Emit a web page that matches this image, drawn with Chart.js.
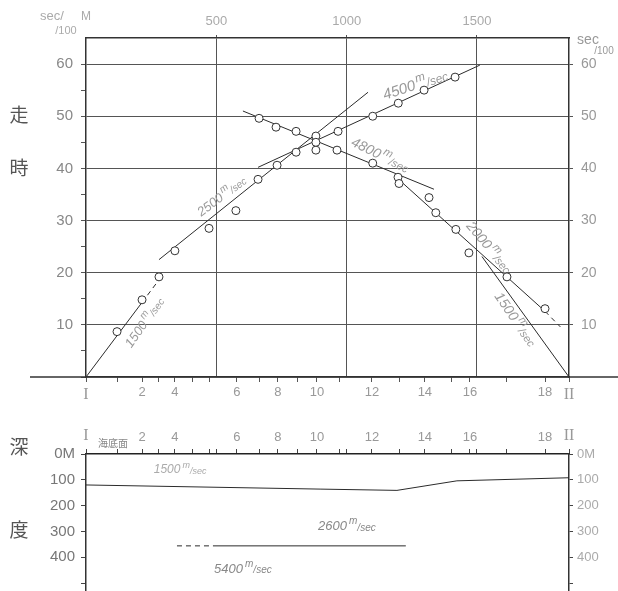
<!DOCTYPE html>
<html>
<head>
<meta charset="utf-8">
<script src="https://cdn.jsdelivr.net/npm/chart.js@4.4.1/dist/chart.umd.min.js"></script>
<style>
  html, body { margin: 0; padding: 0; background: #fff; overflow: hidden; }
  #travel { position: absolute; left: 0; top: 0; }
  #depth { position: absolute; left: 0; top: 411px; }
</style>
</head>
<body>
<canvas id="travel" width="618" height="412"></canvas>
<canvas id="depth" width="618" height="194"></canvas>
<script>
// line length I -> II in metres
var SPAN = 1853;

// stations along the line (metres) and their labels
var stationPos = [0, 119, 215, 280, 341, 407, 472, 579, 664, 736, 813, 886, 974, 1097, 1201, 1300, 1404, 1473, 1615, 1761, 1853];
var stationName = ['I', '', '2', '', '4', '', '', '6', '', '8', '', '10', '', '12', '', '14', '', '16', '', '18', 'II'];

// travel times (1/100 sec) -- shot at I
var fwdDist = [119, 215, 280, 341, 472, 575, 660, 733, 806, 882, 967, 1100, 1198, 1297, 1416];
var fwdTime = [8.7, 14.8, 19.2, 24.2, 28.5, 31.9, 37.9, 40.6, 43.1, 45.0, 47.1, 50.0, 52.5, 55.0, 57.5];
// shot at II
var revDist = [664, 729, 806, 882, 882, 963, 1100, 1197, 1201, 1316, 1342, 1419, 1469, 1615, 1761];
var revTime = [49.6, 47.9, 47.1, 46.2, 43.5, 43.5, 41.0, 38.3, 37.1, 34.4, 31.5, 28.3, 23.8, 19.2, 13.1];

// fitted velocity lines
var v1500aDist = [0, 215, 290],   v1500aTime = [0, 14.3, 19.3];
var v2500Dist = [280, 1082],      v2500Time = [22.5, 54.6];
var v4500Dist = [660, 1511],      v4500Time = [40.2, 59.8];
var v4800Dist = [602, 1335],      v4800Time = [51.0, 36.0];
var v2000Dist = [1197, 1761, 1820], v2000Time = [38.0, 12.6, 9.6];
var v1500bDist = [1519, 1853],    v1500bTime = [23.1, 0];

// depth section (m)
var seabedDist = [0, 898, 1193, 1423, 1853];
var seabedDepth = [120, 136, 141, 104, 92];
var layerDist = [349, 487, 1227];
var layerDepth = [356, 356, 356];

function pts(xs, ys) { return xs.map(function (x, i) { return { x: x, y: ys[i] }; }); }

function seg(xs, ys, dashFirst, dashLast) {
  var n = xs.length;
  return {
    type: 'line', data: pts(xs, ys), borderColor: '#2b2b2b', borderWidth: 1,
    pointRadius: 0, tension: 0, order: 2,
    segment: {
      borderDash: function (c) {
        if (dashFirst && c.p0DataIndex === 0) return [5, 4];
        if (dashLast && c.p1DataIndex === n - 1) return [5, 4];
        return undefined;
      }
    }
  };
}

function circles(xs, ys) {
  return {
    type: 'scatter', data: pts(xs, ys), showLine: false, order: 1,
    pointStyle: 'circle', pointRadius: 4, backgroundColor: '#fff',
    borderColor: '#333', borderWidth: 1
  };
}

function speedText(ctx, num, size, color) {
  var big = 'italic ' + size + 'px "Liberation Sans"';
  var small = 'italic ' + Math.round(size * 0.78) + 'px "Liberation Sans"';
  ctx.font = big; var w1 = ctx.measureText(num).width;
  ctx.font = small; var w2 = ctx.measureText('m').width, w3 = ctx.measureText('/sec').width;
  var x = -(w1 + w2 + w3 + 2) / 2;
  ctx.fillStyle = color; ctx.textBaseline = 'middle'; ctx.textAlign = 'left';
  ctx.font = big; ctx.fillText(num, x, 0); x += w1 + 2;
  ctx.font = small; ctx.fillText('m', x, -size * 0.4); x += w2;
  ctx.fillText('/sec', x, size * 0.1);
}

// text notes: data position (x,y) or pixel position (px,py)
var notes = {
  id: 'notes',
  afterDatasetsDraw: function (chart, args, opts) {
    var ctx = chart.ctx, xs = chart.scales.x, ys = chart.scales.y;
    if (opts.axisExtend) {
      var y0 = ys.getPixelForValue(0);
      ctx.save(); ctx.strokeStyle = '#333'; ctx.lineWidth = 1.5;
      ctx.beginPath(); ctx.moveTo(30, y0); ctx.lineTo(618, y0); ctx.stroke(); ctx.restore();
    }
    (opts.items || []).forEach(function (n) {
      var px = n.px !== undefined ? n.px : xs.getPixelForValue(n.x);
      var py = n.py !== undefined ? n.py : ys.getPixelForValue(n.y);
      ctx.save();
      ctx.translate(px, py);
      ctx.rotate((n.angle || 0) * Math.PI / 180);
      if (n.speed) {
        speedText(ctx, n.speed, n.size || 13, n.color || '#999');
      } else {
        ctx.font = n.font || '13px "Liberation Sans"';
        ctx.fillStyle = n.color || '#999';
        ctx.textAlign = n.align || 'center';
        ctx.textBaseline = 'middle';
        ctx.fillText(n.text, 0, 0);
      }
      ctx.restore();
    });
  }
};

var cjk = '19px "Noto Sans CJK JP"';
function stationLabel(v) {
  var i = stationPos.indexOf(v);
  return i < 0 ? '' : stationName[i];
}
function stationFont(c) {
  var lab = c.tick ? stationLabel(c.tick.value) : '';
  if (lab === 'I' || lab === 'II') return { family: '"Liberation Serif"', size: 16 };
  return { family: '"Liberation Sans"', size: 13 };
}
function fixTicks(list) { return function (s) { s.ticks = list.map(function (v) { return { value: v }; }); }; }
function plain(v) { return String(v); }

var travelTicks = [0, 5, 10, 15, 20, 25, 30, 35, 40, 45, 50, 55, 60];

new Chart(document.getElementById('travel'), {
  type: 'line',
  data: {
    datasets: [
      seg(v1500aDist, v1500aTime, false, true),
      seg(v2500Dist, v2500Time),
      seg(v4500Dist, v4500Time),
      seg(v4800Dist, v4800Time),
      seg(v2000Dist, v2000Time, false, true),
      seg(v1500bDist, v1500bTime),
      circles(fwdDist, fwdTime),
      circles(revDist, revTime)
    ]
  },
  options: {
    responsive: false, animation: false,
    layout: { padding: 0 },
    plugins: {
      legend: { display: false }, tooltip: { enabled: false },
      notes: {
        axisExtend: true,
        items: [
          { px: 19, py: 115, text: '走', font: cjk, color: '#555' },
          { px: 19, py: 168, text: '時', font: cjk, color: '#555' },
          { px: 52, py: 16, text: 'sec/', font: '13px "Liberation Sans"', color: '#aaa' },
          { px: 66, py: 31, text: '/100', font: '11px "Liberation Sans"', color: '#aaa' },
          { px: 86, py: 17, text: 'M', font: '12px "Liberation Sans"', color: '#aaa' },
          { px: 588, py: 40, text: 'sec', font: '14px "Liberation Sans"', color: '#999' },
          { px: 604, py: 51, text: '/100', font: '10px "Liberation Sans"', color: '#999' },
          { x: 226, y: 10.4, speed: '1500', angle: -55, size: 13 },
          { x: 522, y: 34.6, speed: '2500', angle: -37, size: 13 },
          { x: 1264, y: 55.9, speed: '4500', angle: -18, size: 15 },
          { x: 1128, y: 42.5, speed: '4800', angle: 26, size: 14 },
          { x: 1545, y: 24.8, speed: '2000', angle: 50, size: 14 },
          { x: 1646, y: 11.0, speed: '1500', angle: 55, size: 14 }
        ]
      }
    },
    scales: {
      x: {
        type: 'linear', position: 'bottom', min: 0, max: SPAN,
        afterBuildTicks: fixTicks(stationPos),
        afterFit: function (s) { s.height = 35; },
        ticks: { autoSkip: false, maxRotation: 0, padding: 3, color: '#999', font: stationFont, callback: stationLabel },
        grid: { drawOnChartArea: false, tickLength: 5, color: '#555' },
        border: { color: '#333', width: 1.5 }
      },
      x2: {
        type: 'linear', position: 'top', min: 0, max: SPAN,
        afterBuildTicks: fixTicks([500, 1000, 1500]),
        afterFit: function (s) { s.height = 38; },
        ticks: { padding: 6, color: '#aaa', font: { family: '"Liberation Sans"', size: 13 }, callback: plain },
        grid: { color: '#555', lineWidth: 1, tickLength: 3 },
        border: { color: '#333', width: 1.5 }
      },
      y: {
        min: 0, max: 65,
        afterBuildTicks: fixTicks(travelTicks),
        afterFit: function (s) { s.width = 86; },
        ticks: {
          padding: 8, color: '#888', font: { family: '"Liberation Sans"', size: 15 },
          callback: function (v) { return (v % 10 === 0 && v > 0) ? v : ''; }
        },
        grid: {
          color: function (c) { return (c.tick && c.tick.value % 10 === 0 && c.tick.value > 0) ? '#555' : 'rgba(0,0,0,0)'; },
          tickColor: '#555', tickLength: 5
        },
        border: { color: '#333', width: 1.5 }
      },
      y2: {
        position: 'right', min: 0, max: 65,
        afterBuildTicks: fixTicks([10, 20, 30, 40, 50, 60]),
        afterFit: function (s) { s.width = 49; },
        ticks: { padding: 8, color: '#999', font: { family: '"Liberation Sans"', size: 14 } },
        grid: { drawOnChartArea: false, tickLength: 4, color: '#555' },
        border: { color: '#333', width: 1.5 }
      }
    }
  },
  plugins: [notes]
});

var depthTicks = [0, 50, 100, 150, 200, 250, 300, 350, 400, 450, 500];

new Chart(document.getElementById('depth'), {
  type: 'line',
  data: {
    datasets: [
      seg(seabedDist, seabedDepth),
      seg(layerDist, layerDepth, true, false)
    ]
  },
  options: {
    responsive: false, animation: false,
    layout: { padding: 0 },
    plugins: {
      legend: { display: false }, tooltip: { enabled: false },
      notes: {
        items: [
          { px: 19, py: 36, text: '深', font: cjk, color: '#555' },
          { px: 19, py: 119, text: '度', font: cjk, color: '#555' },
          { px: 113, py: 32, text: '海底面', font: '10px "Noto Sans CJK JP"', color: '#888' },
          { x: 361, y: 62, speed: '1500', size: 12, color: '#aaa' },
          { x: 1001, y: 281, speed: '2600', size: 13, color: '#888' },
          { x: 602, y: 446, speed: '5400', size: 13, color: '#888' }
        ]
      }
    },
    scales: {
      x: {
        type: 'linear', position: 'top', min: 0, max: SPAN,
        afterBuildTicks: fixTicks(stationPos.concat([500, 1000, 1500]).sort(function (a, b) { return a - b; })),
        afterFit: function (s) { s.height = 43; },
        ticks: { autoSkip: false, maxRotation: 0, padding: 4, color: '#999', font: stationFont, callback: stationLabel },
        grid: { drawOnChartArea: false, tickLength: 5, color: '#444' },
        border: { color: '#222', width: 1.5 }
      },
      y: {
        reverse: true, min: 0, max: 527,
        afterBuildTicks: fixTicks(depthTicks),
        afterFit: function (s) { s.width = 86; },
        ticks: {
          padding: 6, color: '#777', font: { family: '"Liberation Sans"', size: 15 },
          callback: function (v) { return v === 0 ? '0M' : (v % 100 === 0 && v < 500 ? v : ''); }
        },
        grid: { drawOnChartArea: false, tickLength: 5, color: '#444' },
        border: { color: '#333', width: 1.5 }
      },
      y2: {
        position: 'right', reverse: true, min: 0, max: 527,
        afterBuildTicks: fixTicks(depthTicks),
        afterFit: function (s) { s.width = 49; },
        ticks: {
          padding: 4, color: '#aaa', font: { family: '"Liberation Sans"', size: 13 },
          callback: function (v) { return v === 0 ? '0M' : (v % 100 === 0 && v < 500 ? v : ''); }
        },
        grid: { drawOnChartArea: false, tickLength: 4, color: '#444' },
        border: { color: '#333', width: 1.5 }
      }
    }
  },
  plugins: [notes]
});
</script>
</body>
</html>
